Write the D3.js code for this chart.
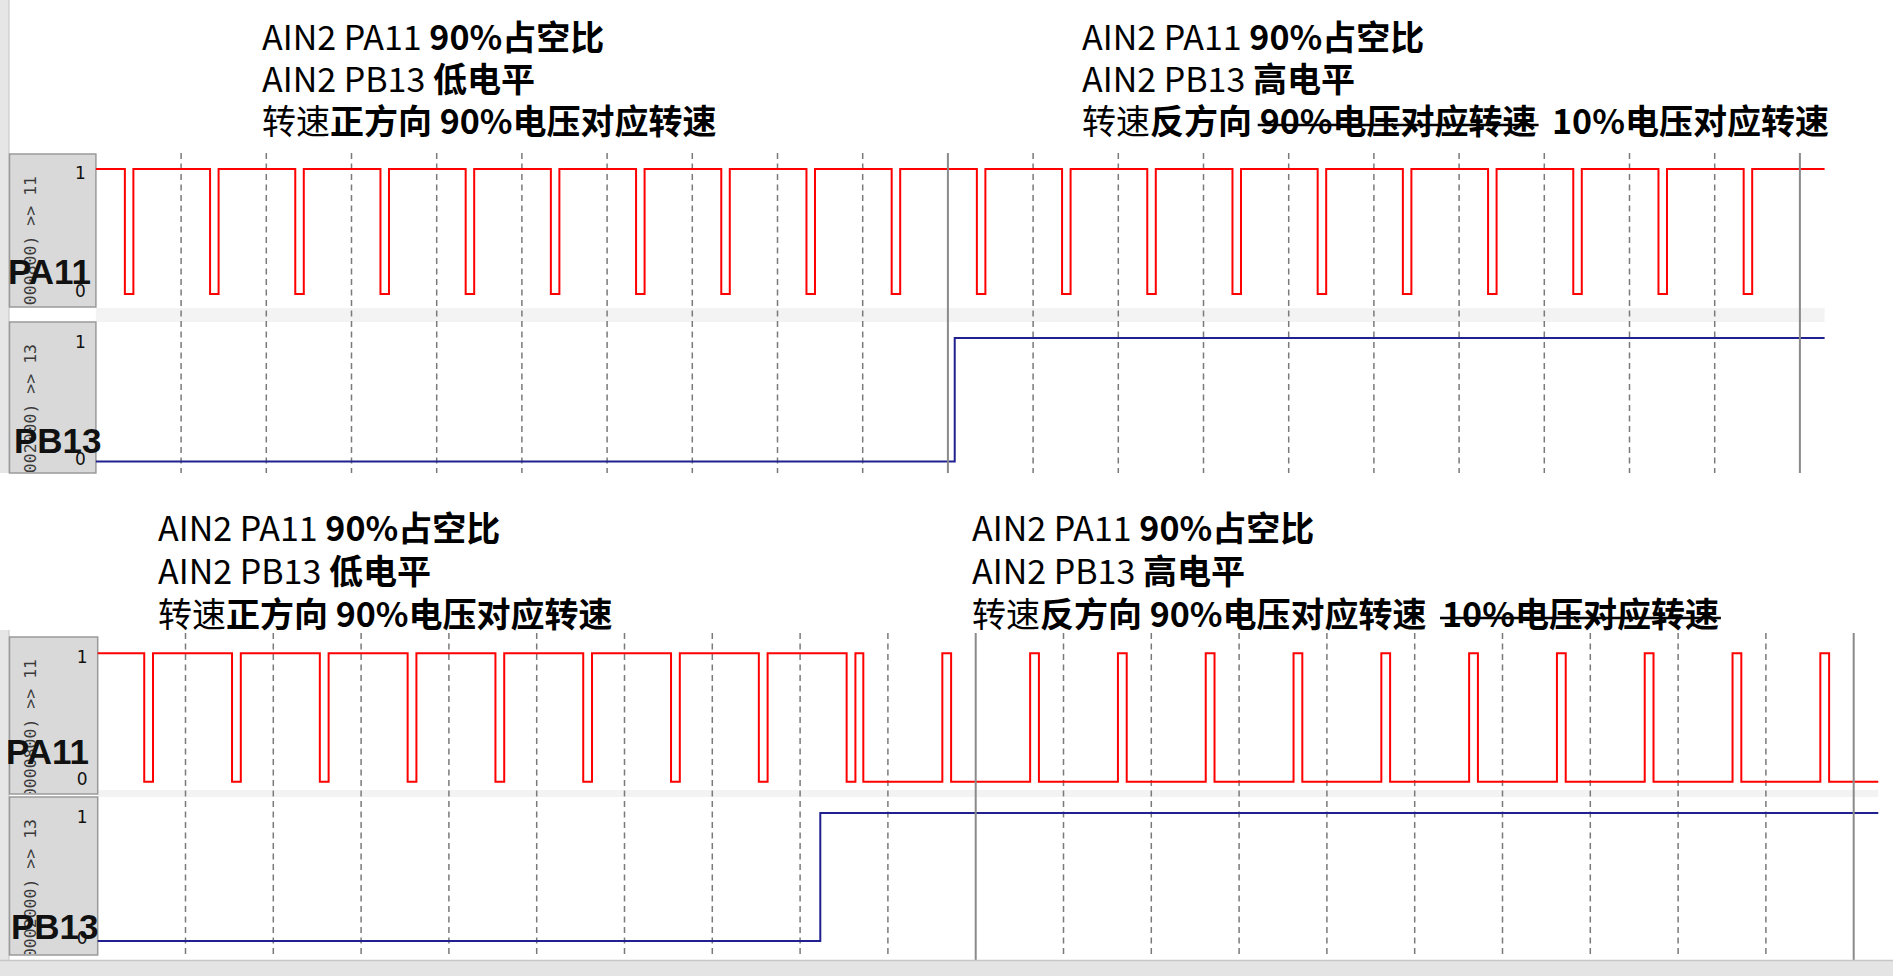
<!DOCTYPE html>
<html><head><meta charset="utf-8">
<script src="https://cdn.jsdelivr.net/npm/d3@7"></script>
<style>
html,body{margin:0;padding:0;background:#fff;overflow:hidden}
svg{display:block}
</style></head><body>
<svg id="chart" width="1893" height="976"></svg>
<script>
// ---------------- data ----------------
const gridDivisions = [1,2,3,4,5,6,7,8,9,10,11,12,13,14,15,16,17,18,19,20];
const majorDivisions = [10, 20];
const levelLabels = ["0", "1"];
const channelNames = ["PA11", "PB13"];
const channelExprs = ["(PORTA & 0x00000800) >> 11", "(PORTB & 0x00002000) >> 13"];

// top capture: [time (divisions), level]
const topTimeEnd = 20.29;
const topPA11 = [[0,1],[0.34,0],[0.44,1],[1.34,0],[1.44,1],[2.34,0],[2.44,1],[3.34,0],[3.44,1],
  [4.34,0],[4.44,1],[5.34,0],[5.44,1],[6.34,0],[6.44,1],[7.34,0],[7.44,1],[8.34,0],[8.44,1],
  [9.34,0],[9.44,1],[10.34,0],[10.44,1],[11.34,0],[11.44,1],[12.34,0],[12.44,1],[13.34,0],[13.44,1],
  [14.34,0],[14.44,1],[15.34,0],[15.44,1],[16.34,0],[16.44,1],[17.34,0],[17.44,1],[18.34,0],[18.44,1],
  [19.34,0],[19.44,1]];
const topPB13 = [[0,0],[10.08,1]];

// bottom capture
const bottomTimeEnd = 20.28;
const bottomPA11 = [[0,1],[0.53,0],[0.63,1],[1.53,0],[1.63,1],[2.53,0],[2.63,1],[3.53,0],[3.63,1],
  [4.53,0],[4.63,1],[5.53,0],[5.63,1],[6.53,0],[6.63,1],[7.53,0],[7.63,1],[8.53,0],[8.63,1],
  [8.72,0],[9.62,1],[9.72,0],[10.62,1],[10.72,0],[11.62,1],[11.72,0],[12.62,1],[12.72,0],
  [13.62,1],[13.72,0],[14.62,1],[14.72,0],[15.62,1],[15.72,0],[16.62,1],[16.72,0],[17.62,1],[17.72,0],
  [18.62,1],[18.72,0],[19.62,1],[19.72,0]];
const bottomPB13 = [[0,0],[8.23,1]];

// annotations: [text, bold, strike]
const noteForward = [
  [["AIN2 PA11 ",0,0],["90%占空比",1,0]],
  [["AIN2 PB13 ",0,0],["低电平",1,0]],
  [["转速",0,0],["正方向 90%电压对应转速",1,0]]
];
const noteReverseTop = [
  [["AIN2 PA11 ",0,0],["90%占空比",1,0]],
  [["AIN2 PB13 ",0,0],["高电平",1,0]],
  [["转速",0,0],["反方向 ",1,0],["90%电压对应转速",1,1],["  10%电压对应转速",1,0]]
];
const noteReverseBottom = [
  [["AIN2 PA11 ",0,0],["90%占空比",1,0]],
  [["AIN2 PB13 ",0,0],["高电平",1,0]],
  [["转速",0,0],["反方向 90%电压对应转速  ",1,0],["10%电压对应转速",1,1]]
];

// ---------------- drawing ----------------
const svg = d3.select("#chart");
const RED = "#ff0000", BLUE = "#20208f";

function drawPanel(cfg, series) {
  const g = svg.append("g");
  const x = d3.scaleLinear().domain([0, cfg.tEnd]).range([cfg.x0, cfg.x0 + cfg.tEnd * cfg.unit]);
  const xr = x(cfg.tEnd);

  // left strip
  g.append("rect").attr("x", 0).attr("y", cfg.stripTop).attr("width", 9)
    .attr("height", cfg.stripBottom - cfg.stripTop).attr("fill", "#e6e6e6");
  g.append("line").attr("x1", 9).attr("x2", 9).attr("y1", cfg.stripTop).attr("y2", cfg.stripBottom)
    .attr("stroke", "#c4c4c4").attr("stroke-width", 1);

  // band between channels
  g.append("rect").attr("x", cfg.x0).attr("y", cfg.band[0]).attr("width", xr - cfg.x0)
    .attr("height", cfg.band[1] - cfg.band[0]).attr("fill", "#f3f3f3");

  // minor grid
  g.selectAll(".minor").data(gridDivisions.filter(d => !majorDivisions.includes(d)))
    .join("line").attr("class", "minor")
    .attr("x1", d => x(d)).attr("x2", d => x(d))
    .attr("y1", cfg.gridTop).attr("y2", cfg.gridBottom)
    .attr("stroke", "#7a7a7a").attr("stroke-width", 1.5).attr("stroke-dasharray", "6,4.5");

  // channels
  cfg.channels.forEach((ch, i) => {
    const y = d3.scaleLinear().domain([0, 1]).range([ch.lo, ch.hi]);
    // label box
    g.append("rect").attr("x", cfg.boxLeft).attr("y", ch.top).attr("width", cfg.x0 - cfg.boxLeft)
      .attr("height", ch.bottom - ch.top).attr("fill", "#d9d9d9")
      .attr("stroke", "#9a9a9a").attr("stroke-width", 1.5);
    const clipId = "clip" + cfg.id + i;
    g.append("clipPath").attr("id", clipId).append("rect")
      .attr("x", cfg.boxLeft + 1).attr("y", ch.top + 1).attr("width", cfg.x0 - cfg.boxLeft - 2)
      .attr("height", ch.bottom - ch.top - 2);
    g.append("g").attr("clip-path", `url(#${clipId})`)
      .append("text")
      .attr("transform", `translate(${cfg.boxLeft + 26},${ch.top + 22}) rotate(-90)`)
      .attr("text-anchor", "end").attr("font-family", "DejaVu Sans Mono").attr("font-size", 16.5)
      .attr("fill", "#3a3a3a").text(channelExprs[i]);
    // level labels
    [0, 1].forEach(v => {
      g.append("text").attr("x", cfg.x0 - 10).attr("y", v ? ch.hi + 10 : ch.lo + 3)
        .attr("text-anchor", "end").attr("font-family", "DejaVu Sans").attr("font-size", 17)
        .attr("fill", "#111").text(levelLabels[v]);
    });
    // signal
    const data = series[i].concat([[cfg.tEnd, series[i][series[i].length - 1][1]]]);
    const line = d3.line().x(d => x(d[0])).y(d => y(d[1])).curve(d3.curveStepAfter);
    g.append("path").attr("d", line(data)).attr("fill", "none")
      .attr("stroke", i === 0 ? RED : BLUE).attr("stroke-width", 2)
      .attr("stroke-linejoin", "miter");
    // big name
    g.append("text").attr("x", ch.nameX).attr("y", ch.nameY)
      .attr("font-family", "Liberation Sans, Arial, sans-serif").attr("font-weight", "bold")
      .attr("font-size", 35).attr("fill", "#111").text(channelNames[i]);
  });

  // major grid lines
  g.selectAll(".major").data(majorDivisions).join("line").attr("class", "major")
    .attr("x1", d => x(d)).attr("x2", d => x(d))
    .attr("y1", cfg.gridTop).attr("y2", cfg.majorBottom)
    .attr("stroke", "#8a8a8a").attr("stroke-width", 2);
}

drawPanel({
  id: "t", tEnd: topTimeEnd, x0: 95.9, unit: 85.2, boxLeft: 9.5,
  stripTop: 0, stripBottom: 473, band: [308, 322], gridTop: 153, gridBottom: 473, majorBottom: 473,
  channels: [
    {top: 154, bottom: 307, hi: 169, lo: 294, nameX: 8, nameY: 284},
    {top: 322, bottom: 473, hi: 338, lo: 461.5, nameX: 14, nameY: 453}
  ]
}, [topPA11, topPB13]);

drawPanel({
  id: "b", tEnd: bottomTimeEnd, x0: 97.7, unit: 87.8, boxLeft: 9.5,
  stripTop: 630, stripBottom: 976, band: [790, 797], gridTop: 633, gridBottom: 955, majorBottom: 960,
  channels: [
    {top: 637, bottom: 794, hi: 653.3, lo: 781.7, nameX: 6, nameY: 764},
    {top: 797, bottom: 955, hi: 813, lo: 941, nameX: 11, nameY: 939}
  ]
}, [bottomPA11, bottomPB13]);

// bottom status area
svg.append("rect").attr("x", 0).attr("y", 961).attr("width", 1893).attr("height", 15).attr("fill", "#e4e4e4");
svg.append("line").attr("x1", 0).attr("x2", 1893).attr("y1", 960.5).attr("y2", 960.5)
  .attr("stroke", "#c6c6c6").attr("stroke-width", 1.5);

// annotations
function drawNote(x0, baselines, lines) {
  lines.forEach((segs, li) => {
    const t = svg.append("text").attr("x", x0).attr("y", baselines[li])
      .attr("font-family", "Noto Sans CJK SC").attr("font-size", 34).attr("fill", "#000")
      .style("white-space", "pre");
    let idx = 0;
    const strikes = [];
    segs.forEach(([s, b, k]) => {
      t.append("tspan").attr("font-weight", b ? 700 : 400).text(s);
      if (k) strikes.push([idx, s.length]);
      idx += s.length;
    });
    const node = t.node();
    strikes.forEach(([start, len]) => {
      const p0 = node.getStartPositionOfChar(start).x;
      const p1 = node.getEndPositionOfChar(start + len - 1).x;
      svg.append("line").attr("x1", p0 - 2).attr("x2", p1 + 2)
        .attr("y1", baselines[li] - 9).attr("y2", baselines[li] - 9)
        .attr("stroke", "#000").attr("stroke-width", 2.5);
    });
  });
}
drawNote(262, [50, 92, 134], noteForward);
drawNote(1082, [50, 92, 134], noteReverseTop);
drawNote(158, [541, 584, 627], noteForward);
drawNote(972, [541, 584, 627], noteReverseBottom);
</script>
</body></html>
